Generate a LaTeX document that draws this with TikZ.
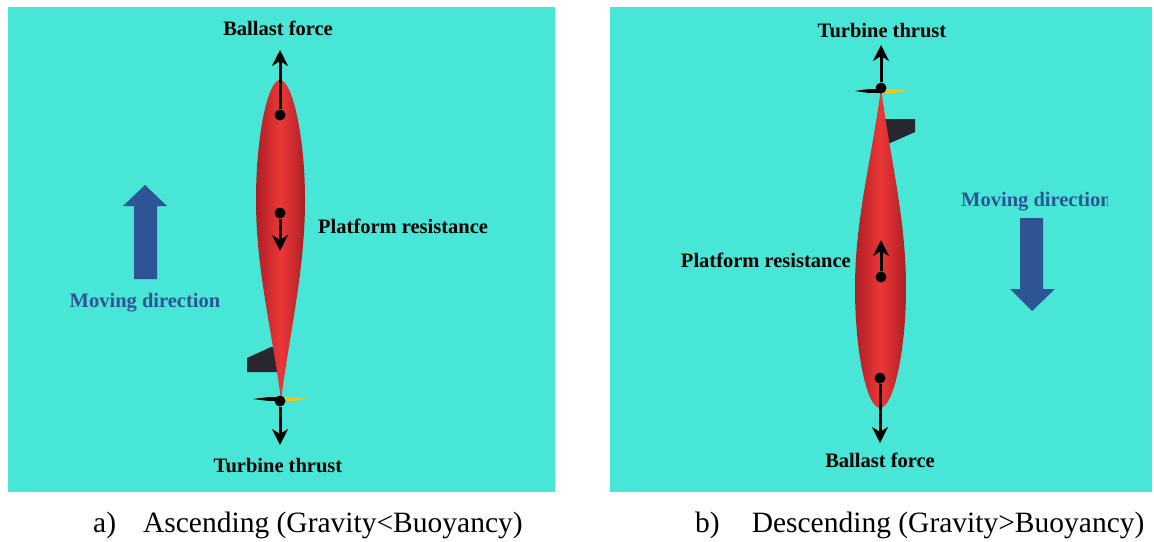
\documentclass[tikz,border=0pt]{standalone}
\usepackage{fontspec}
\setmainfont{LiberationSerif}[Extension=.ttf, UprightFont=*-Regular, BoldFont=*-Bold,
  ItalicFont=*-Italic, BoldItalicFont=*-BoldItalic]
\usetikzlibrary{arrows.meta}
\definecolor{seaCyan}{RGB}{72,230,215}
\definecolor{hullDark}{RGB}{175,30,36}
\definecolor{hullBright}{RGB}{236,56,56}
\definecolor{finGray}{RGB}{40,38,46}
\definecolor{bladeYellow}{RGB}{240,196,30}
\definecolor{moveBlue}{RGB}{47,84,150}
\tikzset{
    base/.style={inner sep=0pt, font=\bfseries\fontsize{20.5}{24}\selectfont},
    forcelabel/.style={base, text=black},
    movelabel/.style={base, text=moveBlue},
    caption/.style={inner sep=0pt, anchor=base west, font=\fontsize{29.5}{34}\selectfont},
    forcedot/.style={circle, fill=black, inner sep=0pt, minimum size=11pt},
    force/.style={-{Stealth[length=16pt,width=16pt,inset=5pt]}, line width=3pt, black},
    hull/.style={left color=hullDark, right color=hullDark, middle color=hullBright},
    panel/.style={fill=seaCyan},
    moving/.style={fill=moveBlue}
}

\begin{document}
\begin{tikzpicture}[x=1pt,y=-1pt]
  \useasboundingbox (0,0) rectangle (1154,541);

  % Water panels
  \fill[panel] (8,7) rectangle (555,492);
  \fill[panel] (610,7) rectangle (1152,492);

  % ---- a) ascending ----
  % Fin
  \fill[finGray] (247,358) -- (271,347) -- (280,347) -- (280,372) -- (247,372) -- cycle;
  % Hull
  \shade[hull] (281,400) .. controls (272,330) and (256,270) .. (256,200)
     .. controls (256,135) and (268,80) .. (280,80)
     .. controls (292,80) and (305,135) .. (305,200)
     .. controls (305,270) and (290,330) .. (281,400) -- cycle;
  % Propeller
  \fill[black] (281,397) .. controls (268,397) .. (253,399) .. controls (268,401) .. (281,401) -- cycle;
  \fill[bladeYellow] (281,397) .. controls (294,397) .. (307,399) .. controls (294,401) .. (281,401) -- cycle;

  % Forces
  \node[forcedot] (lbal) at (280,115) {};
  \node[forcedot] (lres) at (280,213) {};
  \node[forcedot] (lthr) at (280,401) {};
  \coordinate (lbalend) at (280,50);
  \coordinate (lresend) at (280,251);
  \coordinate (lthrend) at (280,445);
  \draw[force] (lbal) -- (lbalend);
  \draw[force] (lres) -- (lresend);
  \draw[force] (lthr) -- (lthrend);

  \node[forcelabel, anchor=base] (lballab) at (278,35) {Ballast force};
  \node[forcelabel, anchor=base west] (lreslab) at (318,233) {Platform resistance};
  \node[forcelabel, anchor=base] (lthrlab) at (278,472) {Turbine thrust};

  % Moving direction
  \fill[moving] (134,279) -- (134,206) -- (123,206) -- (145,185) -- (167,206)
     -- (157,206) -- (157,279) -- cycle;
  \node[movelabel, anchor=base] (lmovelab) at (145,307) {Moving direction};

  % ---- b) descending ----
  % Fin
  \fill[finGray] (881,119) -- (915,119) -- (915,132) -- (888,144) -- (881,144) -- cycle;
  % Hull
  \shade[hull] (881,88) .. controls (890,158) and (906,218) .. (906,288)
     .. controls (906,353) and (893,408) .. (880,408)
     .. controls (867,408) and (855,353) .. (855,288)
     .. controls (855,218) and (872,158) .. (881,88) -- cycle;
  % Propeller
  \fill[black] (881,89) .. controls (868,89) .. (855,91) .. controls (868,93) .. (881,93) -- cycle;
  \fill[bladeYellow] (881,89) .. controls (895,89) .. (908,91) .. controls (895,93) .. (881,93) -- cycle;

  % Forces
  \node[forcedot] (rthr) at (881,88) {};
  \node[forcedot] (rres) at (881,277) {};
  \node[forcedot] (rbal) at (880,378) {};
  \coordinate (rthrend) at (881,45);
  \coordinate (rresend) at (881,240);
  \coordinate (rbalend) at (880,443);
  \draw[force] (rthr) -- (rthrend);
  \draw[force] (rres) -- (rresend);
  \draw[force] (rbal) -- (rbalend);

  \node[forcelabel, anchor=base] (rthrlab) at (882,37) {Turbine thrust};
  \node[forcelabel, anchor=base east] (rreslab) at (851,267) {Platform resistance};
  \node[forcelabel, anchor=base] (rballab) at (880,467) {Ballast force};

  % Moving direction
  \fill[moving] (1020,218) -- (1020,289) -- (1010,289) -- (1032,311) -- (1055,289)
     -- (1043,289) -- (1043,218) -- cycle;
  \begin{scope}
    \clip (940,180) rectangle (1107,215);
    \node[movelabel, anchor=base west] (rmovelab) at (961,206) {Moving direction};
  \end{scope}

  % Captions
  \node[caption] (capa) at (93,532) {a)\hspace{27pt}Ascending (Gravity<Buoyancy)};
  \node[caption] (capb) at (695,532) {b)\hspace{32pt}Descending (Gravity>Buoyancy)};
\end{tikzpicture}
\end{document}
